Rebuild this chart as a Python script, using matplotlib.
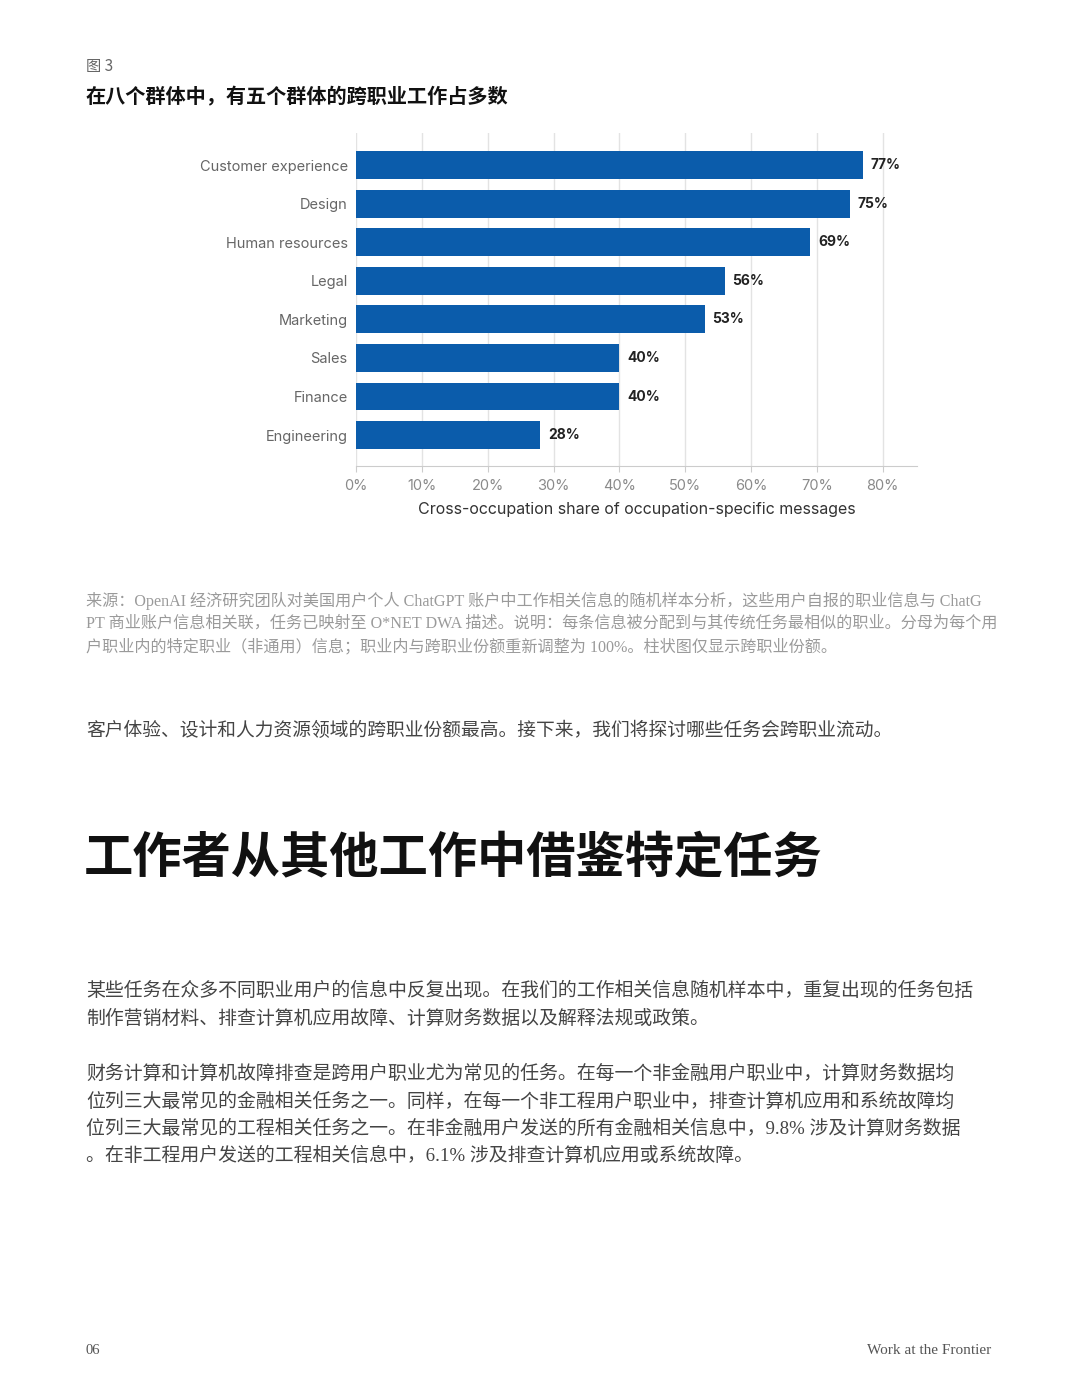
# Figure 3 page: cross-occupation share by user occupation group

import matplotlib
import matplotlib.pyplot as plt

W, H = 1080, 1397

categories = ['Customer experience', 'Design', 'Human resources', 'Legal',
              'Marketing', 'Sales', 'Finance', 'Engineering']
shares = [77, 75, 69, 56, 53, 40, 40, 28]
xticks = [0, 10, 20, 30, 40, 50, 60, 70, 80]
xtick_labels = ['0%', '10%', '20%', '30%', '40%', '50%', '60%', '70%', '80%']

fig_label = '图 3'
chart_title = '在八个群体中，有五个群体的跨职业工作占多数'
x_title = 'Cross-occupation share of occupation-specific messages'
source_lines = [
    '来源：OpenAI 经济研究团队对美国用户个人 ChatGPT 账户中工作相关信息的随机样本分析，这些用户自报的职业信息与 ChatG',
    'PT 商业账户信息相关联，任务已映射至 O*NET DWA 描述。说明：每条信息被分配到与其传统任务最相似的职业。分母为每个用',
    '户职业内的特定职业（非通用）信息；职业内与跨职业份额重新调整为 100%。柱状图仅显示跨职业份额。',
]
summary = '客户体验、设计和人力资源领域的跨职业份额最高。接下来，我们将探讨哪些任务会跨职业流动。'
heading = '工作者从其他工作中借鉴特定任务'
para1 = [
    '某些任务在众多不同职业用户的信息中反复出现。在我们的工作相关信息随机样本中，重复出现的任务包括',
    '制作营销材料、排查计算机应用故障、计算财务数据以及解释法规或政策。',
]
para2 = [
    '财务计算和计算机故障排查是跨用户职业尤为常见的任务。在每一个非金融用户职业中，计算财务数据均',
    '位列三大最常见的金融相关任务之一。同样，在每一个非工程用户职业中，排查计算机应用和系统故障均',
    '位列三大最常见的工程相关任务之一。在非金融用户发送的所有金融相关信息中，9.8% 涉及计算财务数据',
    '。在非工程用户发送的工程相关信息中，6.1% 涉及排查计算机应用或系统故障。',
]
page_no = '06'
footer = 'Work at the Frontier'

CJK = ['Noto Sans CJK SC', 'DejaVu Sans']
SERIF_CJK = ['Liberation Serif', 'Noto Sans CJK SC']
plt.rcParams['font.family'] = CJK

fig = plt.figure(figsize=(W / 100, H / 100), dpi=100)
fig.patch.set_facecolor('white')


def fx(px):
    return px / W


def fy(py):
    return 1 - py / H


## header texts
fig.text(fx(86), fy(67), fig_label, fontsize=11, color='#666666', va='center', family=CJK)
fig.text(fx(86), fy(97), chart_title, fontsize=14.5, fontweight='bold', color='#111111',
         va='center', family=CJK)

## bar chart
ax = fig.add_axes([fx(356), fy(466), fx(917) - fx(356), (466 - 133) / H])
ypos = list(range(len(categories)))
ax.barh(ypos, shares, height=0.72, color='#0b5cab', zorder=3)
for y, v in zip(ypos, shares):
    ax.annotate(f'{v}%', (v, y), xytext=(5.5, 0), textcoords='offset points',
                va='center', ha='left', fontsize=10, fontweight='bold', color='#222222',
                family=['Inter', 'DejaVu Sans'])
ax.set_ylim(len(categories) - 1 + 0.80, -0.83)
ax.set_xlim(0, 85.2)
ax.set_yticks(ypos)
ax.set_yticklabels(categories, fontsize=10.5, color='#666666', family=['Inter', 'DejaVu Sans'])
ax.set_xticks(xticks)
ax.set_xticklabels(xtick_labels, fontsize=10.5, color='#8a8a8a', family=['Inter', 'DejaVu Sans'])
ax.tick_params(axis='y', length=0, pad=6)
ax.tick_params(axis='x', length=4, color='#cccccc', pad=5.5)
ax.grid(axis='x', color='#e3e3e3', linewidth=1, zorder=0)
for side in ['top', 'right', 'left']:
    ax.spines[side].set_visible(False)
ax.spines['bottom'].set_color('#cccccc')
ax.set_xlabel(x_title, fontsize=11.5, color='#333333', labelpad=6, family=['Inter', 'DejaVu Sans'])

## source note
for i, line in enumerate(source_lines):
    fig.text(fx(86), fy(601 + i * 23), line, fontsize=11.6, color='#9a9a9a', va='center',
             family=SERIF_CJK)

## summary sentence
fig.text(fx(86), fy(731), summary, fontsize=13.5, color='#444444', va='center', family=SERIF_CJK)

## section heading
fig.text(fx(84), fy(859), heading, fontsize=35.5, fontweight='bold', color='#111111',
         va='center', family=CJK)

## body paragraphs
for i, line in enumerate(para1):
    fig.text(fx(86), fy(991 + i * 27.5), line, fontsize=13.6, color='#444444', va='center',
             family=SERIF_CJK)
for i, line in enumerate(para2):
    fig.text(fx(86), fy(1074 + i * 27.3), line, fontsize=13.6, color='#444444', va='center',
             family=SERIF_CJK)

## footer
fig.text(fx(86), fy(1351), page_no, fontsize=10.5, color='#555555', va='center',
         family=['Liberation Serif'])
fig.text(fx(991), fy(1350), footer, fontsize=11, color='#555555', va='center', ha='right',
         family=['Liberation Serif'])

fig.savefig('out.png', dpi=100, facecolor='white')
